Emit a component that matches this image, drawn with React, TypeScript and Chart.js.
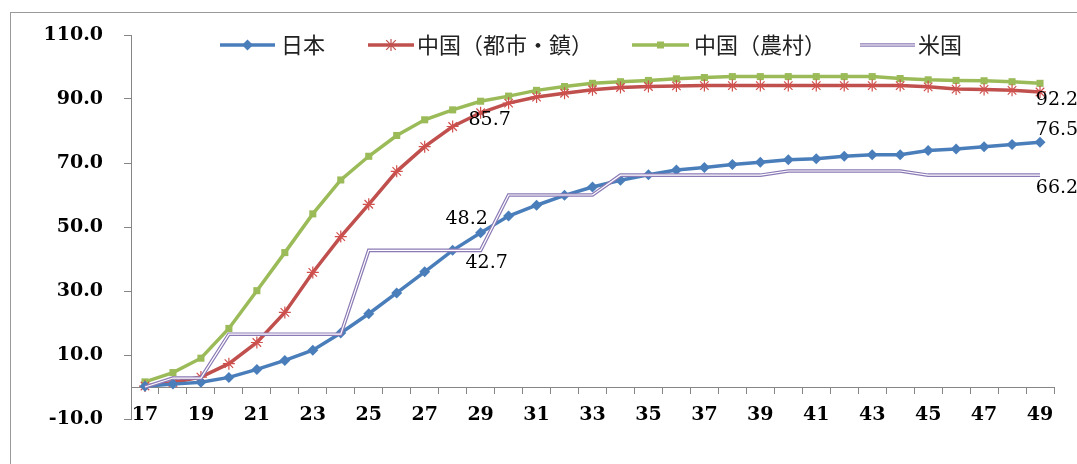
import React, { useEffect, useRef } from 'react';
import { Chart, registerables } from 'chart.js';

Chart.register(...registerables);

// Age categories (x axis)
const ages = [
  '17', '18', '19', '20', '21', '22', '23', '24', '25', '26', '27',
  '28', '29', '30', '31', '32', '33', '34', '35', '36', '37', '38',
  '39', '40', '41', '42', '43', '44', '45', '46', '47', '48', '49',
];

const japan = [
  0.2, 0.9, 1.5, 3.0, 5.5, 8.3, 11.5, 16.9, 22.9, 29.4, 36.0,
  42.7, 48.2, 53.4, 56.8, 59.9, 62.5, 64.6, 66.3, 67.8, 68.6, 69.5,
  70.2, 71.0, 71.3, 72.1, 72.6, 72.6, 73.9, 74.4, 75.1, 75.8, 76.5,
];

const chinaUrban = [
  0.3, 1.4, 3.1, 7.3, 13.9, 23.3, 35.8, 47.0, 57.1, 67.4, 75.1,
  81.4, 85.7, 88.7, 90.6, 91.8, 92.9, 93.6, 93.9, 94.1, 94.2, 94.2,
  94.2, 94.2, 94.2, 94.2, 94.2, 94.2, 93.8, 93.1, 93.0, 92.7, 92.2,
];

const chinaRural = [
  1.6, 4.5, 9.0, 18.3, 30.1, 42.0, 54.1, 64.7, 72.1, 78.6, 83.5,
  86.6, 89.3, 90.9, 92.7, 93.9, 94.9, 95.4, 95.8, 96.3, 96.7, 97.0,
  97.0, 97.0, 97.0, 97.0, 97.0, 96.4, 96.0, 95.8, 95.7, 95.4, 94.9,
];

const usa = [
  0.0, 2.8, 2.8, 16.5, 16.5, 16.5, 16.5, 16.5, 42.7, 42.7, 42.7,
  42.7, 42.7, 60.0, 60.0, 60.0, 60.0, 66.2, 66.2, 66.2, 66.2, 66.2,
  66.2, 67.5, 67.5, 67.5, 67.5, 67.5, 66.2, 66.2, 66.2, 66.2, 66.2,
];

const seriesNames = ['日本', '中国（都市・鎮）', '中国（農村）', '米国'];

const Y_MIN = -10;
const Y_MAX = 110;
const Y_STEP = 20;

const BLUE = '#4A7EBB';
const RED = '#C0504D';
const GREEN = '#9BBB59';
const PURPLE = '#8B7AB5';
const AXIS_GRAY = '#868686';

const TICK_FONT = { family: "'DejaVu Serif', serif", size: 19, weight: 'bold' as const };
const LABEL_FONT = "19px 'DejaVu Serif', serif";
const LEGEND_FONT = "22px 'Noto Sans CJK JP', sans-serif";

// Value labels: which dataset, which category, and where the text sits relative to the point
const valueLabels = [
  { dataset: 'jp', index: 12, dx: -14, dy: -14 },
  { dataset: 'us', index: 12, dx: 6, dy: 12.5 },
  { dataset: 'cu', index: 12, dx: 9, dy: 7 },
  { dataset: 'jp', index: 32, dx: 17, dy: -12 },
  { dataset: 'cu', index: 32, dx: 17, dy: 8 },
  { dataset: 'us', index: 32, dx: 17, dy: 12.5 },
];

function drawMarker(ctx: CanvasRenderingContext2D, kind: string, x: number, y: number, color: string) {
  ctx.save();
  ctx.fillStyle = color;
  ctx.strokeStyle = color;
  if (kind === 'diamond') {
    const r = 5.5;
    ctx.beginPath();
    ctx.moveTo(x, y - r);
    ctx.lineTo(x + r, y);
    ctx.lineTo(x, y + r);
    ctx.lineTo(x - r, y);
    ctx.closePath();
    ctx.fill();
  } else if (kind === 'square') {
    const s = 3.5;
    ctx.fillRect(x - s, y - s, s * 2, s * 2);
  } else if (kind === 'star') {
    const r = 6;
    ctx.lineWidth = 1.2;
    ctx.beginPath();
    ctx.moveTo(x - r * 0.8, y - r * 0.8);
    ctx.lineTo(x + r * 0.8, y + r * 0.8);
    ctx.moveTo(x - r * 0.8, y + r * 0.8);
    ctx.lineTo(x + r * 0.8, y - r * 0.8);
    ctx.moveTo(x, y - r);
    ctx.lineTo(x, y + r);
    ctx.stroke();
  }
  ctx.restore();
}

const framePlugin = {
  id: 'frame',
  beforeDraw(chart: Chart) {
    const { ctx, width, height } = chart;
    ctx.save();
    ctx.fillStyle = '#ffffff';
    ctx.fillRect(0, 0, width, height);
    ctx.strokeStyle = '#9a9a9a';
    ctx.lineWidth = 1;
    ctx.strokeRect(10.5, 12.5, width + 20, height + 20);
    ctx.restore();
  },
};

const legendItems = [
  { text: seriesNames[0], color: BLUE, marker: 'diamond', x1: 220, x2: 275, tx: 281, double: false },
  { text: seriesNames[1], color: RED, marker: 'star', x1: 368, x2: 414, tx: 417, double: false },
  { text: seriesNames[2], color: GREEN, marker: 'square', x1: 632, x2: 689, tx: 694, double: false },
  { text: seriesNames[3], color: PURPLE, marker: '', x1: 860, x2: 915, tx: 918, double: true },
];

const legendPlugin = {
  id: 'customLegend',
  afterDraw(chart: Chart) {
    const { ctx } = chart;
    const y = 45;
    ctx.save();
    for (const item of legendItems) {
      ctx.lineCap = 'butt';
      if (item.double) {
        ctx.strokeStyle = item.color;
        ctx.lineWidth = 3.5;
        ctx.beginPath();
        ctx.moveTo(item.x1, y);
        ctx.lineTo(item.x2, y);
        ctx.stroke();
        ctx.strokeStyle = '#ffffff';
        ctx.lineWidth = 1.2;
        ctx.beginPath();
        ctx.moveTo(item.x1, y);
        ctx.lineTo(item.x2, y);
        ctx.stroke();
      } else {
        ctx.strokeStyle = item.color;
        ctx.lineWidth = 3.5;
        ctx.beginPath();
        ctx.moveTo(item.x1, y);
        ctx.lineTo(item.x2, y);
        ctx.stroke();
        drawMarker(ctx, item.marker, (item.x1 + item.x2) / 2, y, item.color);
      }
      ctx.fillStyle = '#222222';
      ctx.font = LEGEND_FONT;
      ctx.textAlign = 'left';
      ctx.textBaseline = 'middle';
      ctx.fillText(item.text, item.tx, y);
    }
    ctx.restore();
  },
};

const valueLabelPlugin = {
  id: 'valueLabels',
  afterDatasetsDraw(chart: Chart) {
    const { ctx } = chart;
    ctx.save();
    ctx.font = LABEL_FONT;
    ctx.fillStyle = '#000000';
    ctx.textAlign = 'center';
    ctx.textBaseline = 'middle';
    for (const lbl of valueLabels) {
      const dsIndex = chart.data.datasets.findIndex((d: any) => d.key === lbl.dataset);
      if (dsIndex < 0) continue;
      const meta = chart.getDatasetMeta(dsIndex);
      const pt = meta.data[lbl.index];
      const value = chart.data.datasets[dsIndex].data[lbl.index] as number;
      ctx.fillText(value.toFixed(1), pt.x + lbl.dx, pt.y + lbl.dy);
    }
    ctx.restore();
  },
};

export default function App() {
  const canvasRef = useRef<HTMLCanvasElement | null>(null);

  useEffect(() => {
    const canvas = canvasRef.current;
    if (!canvas) return;

    const chart = new Chart(canvas, {
      type: 'line',
      data: {
        labels: ages,
        datasets: [
          {
            key: 'usInner',
            label: seriesNames[3],
            data: usa,
            borderColor: '#ffffff',
            borderWidth: 1.2,
            pointRadius: 0,
            tension: 0,
            order: 0,
          },
          {
            key: 'us',
            label: seriesNames[3],
            data: usa,
            borderColor: PURPLE,
            borderWidth: 3.6,
            pointRadius: 0,
            tension: 0,
            order: 1,
          },
          {
            key: 'jp',
            label: seriesNames[0],
            data: japan,
            borderColor: BLUE,
            backgroundColor: BLUE,
            borderWidth: 3.5,
            pointStyle: 'rectRot',
            pointRadius: 5.5,
            pointBorderWidth: 0,
            pointBackgroundColor: BLUE,
            tension: 0,
            order: 2,
          },
          {
            key: 'cu',
            label: seriesNames[1],
            data: chinaUrban,
            borderColor: RED,
            backgroundColor: RED,
            borderWidth: 3.5,
            pointStyle: 'star',
            pointRadius: 6,
            pointBorderWidth: 1.2,
            pointBorderColor: '#D0504D',
            tension: 0,
            order: 3,
          },
          {
            key: 'cr',
            label: seriesNames[2],
            data: chinaRural,
            borderColor: GREEN,
            backgroundColor: GREEN,
            borderWidth: 3.5,
            pointStyle: 'rect',
            pointRadius: 5,
            pointBorderWidth: 0,
            pointBackgroundColor: GREEN,
            tension: 0,
            order: 4,
          },
        ] as any,
      },
      options: {
        responsive: false,
        animation: false,
        devicePixelRatio: 1,
        layout: { padding: { left: 0, right: 23, top: 35, bottom: 45 } },
        plugins: {
          legend: { display: false },
          tooltip: { enabled: false },
        },
        scales: {
          x: {
            type: 'category',
            offset: true,
            position: { y: 0 } as any,
            grid: {
              offset: true,
              drawOnChartArea: false,
              drawTicks: true,
              tickLength: 6,
              color: AXIS_GRAY,
            },
            border: { display: true, color: AXIS_GRAY, width: 1 },
            ticks: {
              autoSkip: false,
              maxRotation: 0,
              minRotation: 0,
              padding: 11,
              color: '#000000',
              font: TICK_FONT,
              callback: (_v: any, i: number) => (i % 2 === 0 ? ages[i] : ''),
            },
          },
          y: {
            type: 'linear',
            min: Y_MIN,
            max: Y_MAX,
            afterFit: (scale: any) => {
              scale.width = 131;
            },
            grid: {
              drawOnChartArea: false,
              drawTicks: true,
              tickLength: 7,
              color: AXIS_GRAY,
            },
            border: { display: true, color: AXIS_GRAY, width: 1 },
            ticks: {
              stepSize: Y_STEP,
              padding: 21,
              color: '#000000',
              font: TICK_FONT,
              callback: (v: any) => Number(v).toFixed(1),
            },
          },
        },
      } as any,
      plugins: [framePlugin, legendPlugin, valueLabelPlugin],
    });

    return () => {
      chart.destroy();
    };
  }, []);

  return (
    <div
      style={{
        position: 'fixed',
        left: 0,
        top: 0,
        width: 1077,
        height: 464,
        background: '#ffffff',
        overflow: 'hidden',
      }}
    >
      <canvas ref={canvasRef} width={1077} height={464} style={{ display: 'block' }} />
    </div>
  );
}
